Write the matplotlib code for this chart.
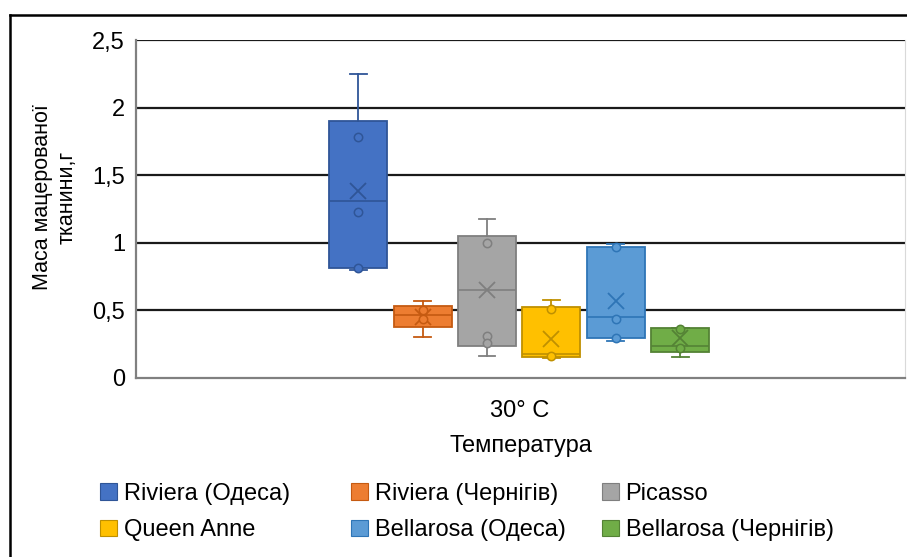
import matplotlib.pyplot as plt
from matplotlib.patches import Patch
from matplotlib.lines import Line2D

plt.rcParams['font.family'] = ['Liberation Sans', 'DejaVu Sans']

# ---- data: box statistics per variety (mass of macerated tissue, g) ----
varieties = ["Riviera (Одеса)", "Riviera (Чернігів)", "Picasso",
             "Queen Anne", "Bellarosa (Одеса)", "Bellarosa (Чернігів)"]
whisker_low = [0.80, 0.305, 0.165, 0.15, 0.276, 0.158]
q1 = [0.81, 0.375, 0.237, 0.158, 0.293, 0.192]
median = [1.31, 0.464, 0.65, 0.18, 0.449, 0.237]
q3 = [1.90, 0.53, 1.05, 0.523, 0.971, 0.367]
whisker_high = [2.25, 0.57, 1.176, 0.577, 0.99, 0.37]
mean = [1.38, 0.45, 0.65, 0.29, 0.57, 0.293]
inner_points = [[1.78, 1.23, 0.81],
                [0.50, 0.44],
                [0.996, 0.313, 0.257],
                [0.508, 0.165],
                [0.97, 0.434, 0.298],
                [0.362, 0.224]]

fills = ["#4472C4", "#ED7D31", "#A5A5A5", "#FFC000", "#5B9BD5", "#70AD47"]
edges = ["#2F5597", "#C55A11", "#7F7F7F", "#BF9000", "#2E75B6", "#548235"]

y_ticks = [0, 0.5, 1, 1.5, 2, 2.5]
y_tick_labels = ["0", "0,5", "1", "1,5", "2", "2,5"]

FS = 17

fig = plt.figure(figsize=(9.07, 5.57), dpi=100)
ax = fig.add_axes([136 / 907, 1 - 378 / 557, (905 - 136) / 907, 338 / 557])

# horizontal grid
for yv in y_ticks[1:]:
    ax.axhline(yv, color="#1a1a1a", lw=1.6, zorder=1)

positions = list(range(len(varieties)))
for i, pos in enumerate(positions):
    stats = [dict(whislo=whisker_low[i], q1=q1[i], med=median[i], q3=q3[i],
                  whishi=whisker_high[i], mean=mean[i], fliers=[])]
    ax.bxp(stats, positions=[pos], widths=0.9, capwidths=0.26,
           patch_artist=True, showmeans=True, manage_ticks=False,
           boxprops=dict(facecolor=fills[i], edgecolor=edges[i], lw=1.3),
           medianprops=dict(color=edges[i], lw=1.2),
           whiskerprops=dict(color=edges[i], lw=1.3),
           capprops=dict(color=edges[i], lw=1.3),
           meanprops=dict(marker="x", markeredgecolor=edges[i],
                          markersize=11, markeredgewidth=1.3))
    ax.plot([pos] * len(inner_points[i]), inner_points[i], "o", ms=6,
            mfc=fills[i], mec=edges[i], mew=1.1, zorder=4)

ax.set_xlim(-3.45, 8.49)
ax.set_ylim(0, 2.5)
ax.set_yticks(y_ticks)
ax.set_yticklabels(y_tick_labels, fontsize=FS)
ax.tick_params(axis="y", length=0, pad=8)
ax.set_xticks([2.5])
ax.set_xticklabels(["30° C"], fontsize=FS)
ax.tick_params(axis="x", length=0, pad=15.5)
ax.set_xlabel("Температура", fontsize=FS, labelpad=10)
ax.set_ylabel("Маса мацерованої\nтканини,г", fontsize=15.5,
              linespacing=1.2)
ax.yaxis.set_label_coords(-0.076, 0.535)

for side in ["left", "bottom"]:
    ax.spines[side].set_color("#808080")
    ax.spines[side].set_linewidth(1.6)
ax.spines["top"].set_visible(False)
ax.spines["right"].set_color("#d9d9d9")

# legend: three columns, two rows
col_x = [100 / 907, 351 / 907, 602 / 907]
for c in range(3):
    idx = [c, c + 3]
    handles = [Patch(facecolor=fills[k], edgecolor=edges[k], lw=0.8) for k in idx]
    fig.legend(handles, [varieties[k] for k in idx], loc="center left",
               bbox_to_anchor=(col_x[c], 1 - 512 / 557), frameon=False,
               fontsize=FS, handlelength=0.7, handleheight=0.7,
               handletextpad=0.3, labelspacing=0.62, borderpad=0,
               borderaxespad=0)

# outer chart frame
fig.add_artist(Line2D([10 / 907, 1], [1 - 15 / 557] * 2, color="black", lw=1.8))
fig.add_artist(Line2D([10 / 907] * 2, [0, 1 - 15 / 557], color="black", lw=1.8))

fig.savefig("out.png", dpi=100)
